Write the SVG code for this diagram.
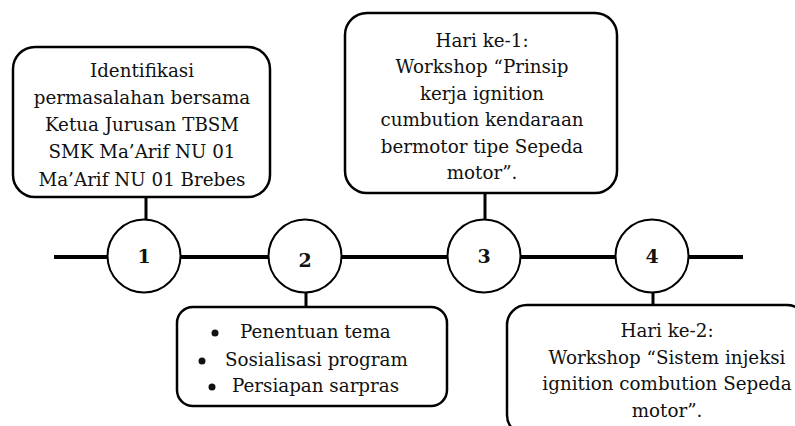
<svg xmlns="http://www.w3.org/2000/svg" width="795" height="426" viewBox="0 0 795 426">
<style>
.box{fill:#fff;stroke:#000;stroke-width:2.5}
.circ{fill:#fff;stroke:#000;stroke-width:2}
.t{font-family:"DejaVu Serif","Liberation Serif",serif;font-size:18.3px;fill:#111;text-anchor:middle}
.n{font-family:"DejaVu Serif","Liberation Serif",serif;font-size:19px;font-weight:bold;fill:#111;text-anchor:middle}
.main{stroke:#000;stroke-width:4;fill:none}
.conn{stroke:#000;stroke-width:3;fill:none}
</style>
<rect width="795" height="426" fill="#fff"/>
<g id="connectors">
<line class="main" x1="54" y1="257" x2="743" y2="257"/>
<line class="conn" x1="146" y1="196" x2="146" y2="221"/>
<line class="conn" x1="306" y1="291" x2="306" y2="308"/>
<line class="conn" x1="485" y1="192" x2="485" y2="221"/>
<line class="conn" x1="653" y1="291" x2="653" y2="306"/>
</g>
<g id="box1">
<rect class="box" x="13" y="47" width="257" height="150" rx="22"/>
<text class="t" x="142" y="77">Identifikasi</text>
<text class="t" x="142" y="104">permasalahan bersama</text>
<text class="t" x="142" y="131">Ketua Jurusan TBSM</text>
<text class="t" x="142" y="158">SMK Ma’Arif NU 01</text>
<text class="t" x="142" y="186">Ma’Arif NU 01 Brebes</text>
</g>
<g id="box3">
<rect class="box" x="345" y="13" width="272" height="180" rx="22"/>
<text class="t" x="482" y="47">Hari ke-1:</text>
<text class="t" x="482" y="73">Workshop “Prinsip</text>
<text class="t" x="482" y="100">kerja ignition</text>
<text class="t" x="482" y="126">cumbution kendaraan</text>
<text class="t" x="482" y="153">bermotor tipe Sepeda</text>
<text class="t" x="482" y="179">motor”.</text>
</g>
<g id="box2">
<rect class="box" x="177" y="307" width="270" height="99" rx="16"/>
<circle cx="215" cy="333" r="3.5" fill="#111"/>
<text class="t" x="240" y="338" style="text-anchor:start">Penentuan tema</text>
<circle cx="202" cy="361" r="3.5" fill="#111"/>
<text class="t" x="225" y="366" style="text-anchor:start">Sosialisasi program</text>
<circle cx="212" cy="387" r="3.5" fill="#111"/>
<text class="t" x="232" y="392" style="text-anchor:start">Persiapan sarpras</text>
</g>
<g id="box4">
<rect class="box" x="507" y="305" width="300" height="130" rx="20"/>
<text class="t" x="667" y="337">Hari ke-2:</text>
<text class="t" x="667" y="364">Workshop “Sistem injeksi</text>
<text class="t" x="667" y="390">ignition combution Sepeda</text>
<text class="t" x="667" y="417">motor”.</text>
</g>
<g id="node1">
<circle class="circ" cx="144" cy="256" r="36.5"/>
<text class="n" x="144" y="263">1</text>
</g>
<g id="node2">
<circle class="circ" cx="305" cy="256" r="36.5"/>
<text class="n" x="305" y="267">2</text>
</g>
<g id="node3">
<circle class="circ" cx="484" cy="256" r="36.5"/>
<text class="n" x="484" y="263">3</text>
</g>
<g id="node4">
<circle class="circ" cx="652" cy="256" r="36.5"/>
<text class="n" x="652" y="263">4</text>
</g>
</svg>
